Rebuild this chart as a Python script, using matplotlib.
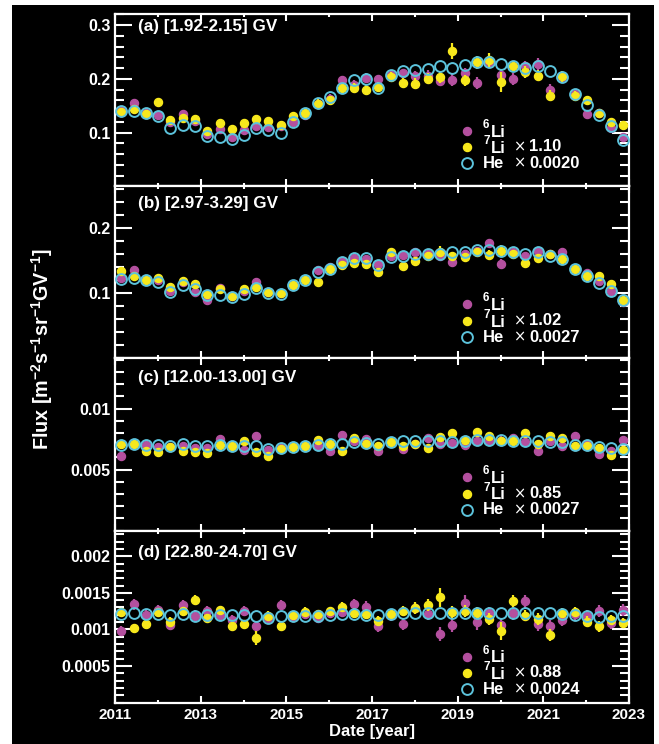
import matplotlib
matplotlib.use("Agg")
import matplotlib.pyplot as plt
from matplotlib.patches import Rectangle
from matplotlib.ticker import FixedLocator, FixedFormatter, MultipleLocator

plt.rcParams['font.family'] = ['Liberation Sans', 'DejaVu Sans']
plt.rcParams['font.weight'] = 'bold'
plt.rcParams['mathtext.fontset'] = 'custom'
plt.rcParams['mathtext.rm'] = 'Liberation Sans:bold'
plt.rcParams['mathtext.bf'] = 'Liberation Sans:bold'
plt.rcParams['mathtext.it'] = 'Liberation Sans:bold'
plt.rcParams['mathtext.default'] = 'rm'

# ---------------- data ----------------
dates = [2011.15, 2011.44, 2011.72, 2012.01, 2012.29, 2012.58, 2012.87, 2013.15, 2013.44, 2013.72,
         2014.01, 2014.30, 2014.58, 2014.87, 2015.15, 2015.44, 2015.73, 2016.01, 2016.30, 2016.58,
         2016.87, 2017.15, 2017.44, 2017.73, 2018.01, 2018.30, 2018.58, 2018.87, 2019.16, 2019.44,
         2019.73, 2020.01, 2020.30, 2020.58, 2020.87, 2021.16, 2021.44, 2021.73, 2022.01, 2022.30,
         2022.59, 2022.87]

panel_titles = ["(a) [1.92-2.15] GV", "(b) [2.97-3.29] GV", "(c) [12.00-13.00] GV", "(d) [22.80-24.70] GV"]
li7_scales = ["1.10", "1.02", "0.85", "0.88"]
he_scales = ["0.0020", "0.0027", "0.0027", "0.0024"]

# Panel (a)
li6_a = [0.142, 0.155, 0.136, 0.132, 0.120, 0.134, 0.122, 0.097, 0.106, 0.092, 0.104, 0.112, 0.110, 0.113,
         0.119, 0.132, 0.154, 0.163, 0.198, 0.188, 0.201, 0.199, 0.207, 0.210, 0.205, 0.206, 0.196, 0.198,
         0.210, 0.192, 0.232, 0.208, 0.200, 0.223, 0.227, 0.180, 0.204, 0.171, 0.134, 0.136, 0.109, 0.091]
li6_a_err = [0.007, 0.007, 0.007, 0.007, 0.007, 0.008, 0.007, 0.007, 0.007, 0.007, 0.007, 0.007, 0.007, 0.007,
             0.007, 0.007, 0.008, 0.008, 0.008, 0.009, 0.009, 0.009, 0.009, 0.009, 0.010, 0.010, 0.010, 0.011,
             0.011, 0.011, 0.011, 0.011, 0.011, 0.011, 0.011, 0.010, 0.010, 0.009, 0.008, 0.008, 0.007, 0.007]
li7_a = [0.138, 0.144, 0.135, 0.157, 0.124, 0.128, 0.126, 0.103, 0.118, 0.106, 0.118, 0.125, 0.122, 0.115,
         0.130, 0.137, 0.154, 0.161, 0.183, 0.183, 0.180, 0.185, 0.204, 0.192, 0.191, 0.200, 0.204, 0.251,
         0.197, 0.231, 0.235, 0.194, 0.223, 0.212, 0.206, 0.169, 0.205, 0.169, 0.160, 0.136, 0.119, 0.115]
li7_a_err = [0.007, 0.007, 0.007, 0.008, 0.007, 0.007, 0.007, 0.007, 0.007, 0.007, 0.007, 0.008, 0.007, 0.007,
             0.007, 0.007, 0.008, 0.008, 0.008, 0.009, 0.009, 0.009, 0.009, 0.009, 0.010, 0.010, 0.011, 0.015,
             0.010, 0.012, 0.013, 0.018, 0.011, 0.011, 0.010, 0.010, 0.010, 0.009, 0.008, 0.008, 0.008, 0.007]
he_a = [0.141, 0.141, 0.137, 0.131, 0.109, 0.115, 0.112, 0.093, 0.092, 0.089, 0.095, 0.109, 0.104, 0.099,
        0.119, 0.136, 0.155, 0.166, 0.183, 0.198, 0.200, 0.183, 0.208, 0.214, 0.217, 0.219, 0.223, 0.220,
        0.226, 0.231, 0.232, 0.228, 0.223, 0.220, 0.224, 0.215, 0.204, 0.172, 0.151, 0.132, 0.112, 0.086]

# Panel (b)
li6_b = [0.124, 0.135, 0.120, 0.120, 0.104, 0.117, 0.102, 0.089, 0.108, 0.096, 0.103, 0.117, 0.102, 0.100,
         0.112, 0.122, 0.135, 0.140, 0.150, 0.154, 0.153, 0.145, 0.158, 0.159, 0.163, 0.160, 0.157, 0.148,
         0.161, 0.165, 0.177, 0.145, 0.163, 0.158, 0.165, 0.160, 0.163, 0.137, 0.131, 0.119, 0.104, 0.087]
li6_b_err = [0.004, 0.004, 0.004, 0.004, 0.004, 0.004, 0.004, 0.004, 0.004, 0.004, 0.004, 0.004, 0.004, 0.004,
             0.004, 0.004, 0.004, 0.004, 0.005, 0.005, 0.005, 0.005, 0.005, 0.005, 0.005, 0.006, 0.006, 0.006,
             0.006, 0.006, 0.007, 0.007, 0.006, 0.006, 0.006, 0.006, 0.005, 0.005, 0.005, 0.004, 0.004, 0.004]
li7_b = [0.134, 0.127, 0.121, 0.124, 0.109, 0.119, 0.115, 0.099, 0.106, 0.096, 0.106, 0.109, 0.102, 0.101,
         0.113, 0.120, 0.117, 0.137, 0.143, 0.146, 0.145, 0.133, 0.163, 0.142, 0.150, 0.158, 0.164, 0.158,
         0.155, 0.164, 0.159, 0.165, 0.160, 0.146, 0.154, 0.160, 0.153, 0.137, 0.127, 0.127, 0.115, 0.090]
li7_b_err = [0.004, 0.004, 0.004, 0.004, 0.004, 0.004, 0.004, 0.004, 0.004, 0.004, 0.004, 0.004, 0.004, 0.004,
             0.004, 0.004, 0.004, 0.004, 0.005, 0.005, 0.005, 0.005, 0.005, 0.005, 0.005, 0.005, 0.008, 0.006,
             0.006, 0.006, 0.007, 0.009, 0.006, 0.006, 0.006, 0.005, 0.005, 0.005, 0.005, 0.004, 0.004, 0.004]
he_b = [0.122, 0.123, 0.120, 0.117, 0.102, 0.112, 0.107, 0.097, 0.097, 0.094, 0.099, 0.108, 0.100, 0.099,
        0.112, 0.121, 0.133, 0.138, 0.148, 0.154, 0.154, 0.144, 0.155, 0.158, 0.161, 0.160, 0.161, 0.163,
        0.164, 0.166, 0.166, 0.165, 0.163, 0.160, 0.164, 0.158, 0.153, 0.137, 0.126, 0.116, 0.103, 0.089]

# Panel (c)
li6_c = [0.0061, 0.00713, 0.00705, 0.00686, 0.00686, 0.00697, 0.00678, 0.00678, 0.00751, 0.00691, 0.00664,
         0.00773, 0.00664, 0.00678, 0.00697, 0.00691, 0.00691, 0.0065, 0.00787, 0.00732, 0.00751, 0.0065,
         0.00724, 0.00669, 0.00713, 0.0076, 0.00713, 0.00719, 0.00705, 0.00732, 0.00732, 0.00732, 0.0076,
         0.00724, 0.0065, 0.00732, 0.00697, 0.00773, 0.00713, 0.00628, 0.00656, 0.00746]
li6_c_err = [0.00022, 0.00022, 0.00022, 0.00022, 0.00022, 0.00022, 0.00022, 0.00022, 0.00024, 0.00022, 0.00022,
             0.00035, 0.00022, 0.00022, 0.00022, 0.00022, 0.00022, 0.00022, 0.00025, 0.00024, 0.00025, 0.00024,
             0.00024, 0.00024, 0.00024, 0.00026, 0.00035, 0.00026, 0.00030, 0.00026, 0.00026, 0.00040, 0.00026,
             0.00026, 0.00025, 0.00025, 0.00024, 0.00024, 0.00023, 0.00023, 0.00023, 0.00026]
li7_c = [0.00713, 0.0071, 0.00656, 0.00642, 0.00686, 0.0065, 0.00645, 0.00637, 0.00705, 0.00697, 0.00732,
         0.00642, 0.00615, 0.00669, 0.00686, 0.00697, 0.0074, 0.00713, 0.0065, 0.0076, 0.00713, 0.00691,
         0.00724, 0.00691, 0.00713, 0.00678, 0.00765, 0.0080, 0.00746, 0.00806, 0.00773, 0.00732, 0.00732,
         0.0080, 0.00713, 0.00773, 0.0076, 0.00691, 0.00697, 0.00678, 0.00617, 0.00664]
li7_c_err = [0.00020, 0.00020, 0.00020, 0.00020, 0.00020, 0.00020, 0.00020, 0.00020, 0.00020, 0.00022, 0.00022,
             0.00030, 0.00020, 0.00020, 0.00020, 0.00020, 0.00022, 0.00022, 0.00020, 0.00024, 0.00022, 0.00022,
             0.00022, 0.00022, 0.00022, 0.00022, 0.00028, 0.00028, 0.00028, 0.00030, 0.00028, 0.00025, 0.00025,
             0.00028, 0.00026, 0.00025, 0.00025, 0.00024, 0.00022, 0.00022, 0.00022, 0.00022]
he_c = [0.00705, 0.00713, 0.00705, 0.00705, 0.00697, 0.0071, 0.00697, 0.00691, 0.00705, 0.00691, 0.00691,
        0.00691, 0.00669, 0.00678, 0.00686, 0.00697, 0.00705, 0.0071, 0.00713, 0.00727, 0.00719, 0.00713,
        0.00724, 0.00732, 0.00738, 0.00732, 0.00732, 0.00724, 0.00732, 0.0074, 0.0074, 0.0074, 0.00732,
        0.00732, 0.00738, 0.00724, 0.00724, 0.00705, 0.00705, 0.00686, 0.00678, 0.00669]

# Panel (d)
li6_d = [0.000982, 0.001342, 0.001198, 0.001266, 0.001063, 0.001333, 0.001189, 0.001252, 0.001198, 0.001131,
         0.001252, 0.001041, 0.001153, 0.001333, 0.001176, 0.001207, 0.001153, 0.001221, 0.001234, 0.001342,
         0.001311, 0.001041, 0.001198, 0.001072, 0.001288, 0.001207, 0.000937, 0.001063, 0.001356, 0.001108,
         0.001221, 0.001063, 0.001221, 0.001387, 0.001072, 0.001041, 0.001131, 0.001207, 0.001189, 0.001252,
         0.001086, 0.001266]
li6_d_err = [0.00007, 0.00007, 0.00007, 0.00007, 0.00007, 0.00007, 0.00007, 0.00007, 0.00007, 0.00007,
             0.00007, 0.00007, 0.00007, 0.00007, 0.00007, 0.00007, 0.00007, 0.00007, 0.00007, 0.00008,
             0.00008, 0.00008, 0.00008, 0.00008, 0.00008, 0.00008, 0.00010, 0.00010, 0.00012, 0.00012,
             0.00009, 0.00009, 0.00009, 0.00009, 0.00009, 0.00009, 0.00008, 0.00008, 0.00008, 0.00008,
             0.00008, 0.00008]
li7_d = [0.001234, 0.001018, 0.001072, 0.001234, 0.001108, 0.001252, 0.001401, 0.001153, 0.001266, 0.001041,
         0.001072, 0.000883, 0.001189, 0.001041, 0.001198, 0.001243, 0.001207, 0.001252, 0.001311, 0.001221,
         0.001207, 0.001117, 0.001207, 0.001252, 0.001297, 0.001333, 0.001437, 0.001234, 0.001252, 0.001221,
         0.001144, 0.000982, 0.001387, 0.001189, 0.001144, 0.000928, 0.001221, 0.001243, 0.001108, 0.001041,
         0.001131, 0.001086]
li7_d_err = [0.00006, 0.00006, 0.00006, 0.00006, 0.00006, 0.00006, 0.00007, 0.00006, 0.00006, 0.00006,
             0.00006, 0.00009, 0.00006, 0.00006, 0.00006, 0.00006, 0.00006, 0.00006, 0.00007, 0.00007,
             0.00007, 0.00007, 0.00007, 0.00007, 0.00008, 0.00008, 0.00013, 0.00008, 0.00008, 0.00008,
             0.00008, 0.00012, 0.00008, 0.00008, 0.00008, 0.00008, 0.00007, 0.00007, 0.00007, 0.00007,
             0.00007, 0.00007]
he_d = [0.00121, 0.00122, 0.00121, 0.00121, 0.00120, 0.00121, 0.00119, 0.00120, 0.00120, 0.00120, 0.00120,
        0.00118, 0.00116, 0.00118, 0.00118, 0.00118, 0.00119, 0.00120, 0.00121, 0.00121, 0.00120, 0.00120,
        0.00121, 0.00122, 0.00122, 0.00122, 0.00122, 0.00122, 0.00122, 0.00122, 0.00123, 0.00122, 0.00122,
        0.00122, 0.00123, 0.00122, 0.00121, 0.00120, 0.00118, 0.00117, 0.00118, 0.00119]

ytick_vals = [[0.1, 0.2, 0.3], [0.1, 0.2], [0.005, 0.01], [0.0005, 0.001, 0.0015, 0.002]]
ytick_labels = [["0.1", "0.2", "0.3"], ["0.1", "0.2"], ["0.005", "0.01"], ["0.0005", "0.001", "0.0015", "0.002"]]
yminor_steps = [0.02, 0.02, 0.001, 0.0001]
ylims = [(0, 0.32), (0, 0.264), (0, 0.0141), (0, 0.00235)]
xtick_years = [2011, 2013, 2015, 2017, 2019, 2021, 2023]

panels = [
    (li6_a, li6_a_err, li7_a, li7_a_err, he_a),
    (li6_b, li6_b_err, li7_b, li7_b_err, he_b),
    (li6_c, li6_c_err, li7_c, li7_c_err, he_c),
    (li6_d, li6_d_err, li7_d, li7_d_err, he_d),
]

# ---------------- style ----------------
C6 = '#b4509f'
C7 = '#f7e81c'
CHE = '#5cc3dc'
W = 'white'

title_off = [0.068, 0.098, 0.110, 0.130]   # from top, axes fraction
leg_off = [0.676, 0.686, 0.690, 0.732]     # first legend row from top

fig = plt.figure(figsize=(6.59, 7.44), dpi=100, facecolor='white')
fig.patches.append(Rectangle((12 / 659, 0), 642 / 659, 739 / 744, transform=fig.transFigure,
                             facecolor='black', edgecolor='none', zorder=-10))

left = 115 / 659
width = (629 - 115) / 659
bottom = (744 - 702.7) / 744
total_h = (702.7 - 14.3) / 744
ph = total_h / 4

for i, (l6, e6, l7, e7, he) in enumerate(panels):
    ax = fig.add_axes([left, bottom + (3 - i) * ph, width, ph])
    ax.set_facecolor('black')
    for s in ax.spines.values():
        s.set_color(W)
        s.set_linewidth(1.6)

    ax.errorbar(dates, l6, yerr=e6, fmt='o', color=C6, ms=5.8, mec=C6, elinewidth=1.6,
                capsize=0, zorder=3)
    ax.errorbar(dates, l7, yerr=e7, fmt='o', color=C7, ms=5.8, mec=C7, elinewidth=1.6,
                capsize=0, zorder=4)
    ax.plot(dates, he, 'o', ms=7.8, mfc='none', mec=CHE, mew=1.4, zorder=5, clip_on=False)

    ax.set_xlim(2011, 2023)
    ax.set_ylim(*ylims[i])
    ax.xaxis.set_major_locator(FixedLocator(xtick_years))
    ax.xaxis.set_minor_locator(MultipleLocator(1))
    ax.yaxis.set_major_locator(FixedLocator(ytick_vals[i]))
    ax.yaxis.set_major_formatter(FixedFormatter(ytick_labels[i]))
    ax.yaxis.set_minor_locator(MultipleLocator(yminor_steps[i]))

    ax.tick_params(axis='y', which='major', direction='in', length=12.5, width=1.5, colors=W,
                   left=True, right=True, labelsize=11.5, pad=3)
    ax.tick_params(axis='y', which='minor', direction='in', length=6.5, width=1.5, colors=W,
                   left=True, right=True)
    ax.tick_params(axis='x', which='major', direction='in', length=5, width=1.5, colors=W,
                   top=True, bottom=True, labelsize=11, pad=4)
    ax.tick_params(axis='x', which='minor', direction='in', length=2.5, width=1.5, colors=W,
                   top=True, bottom=True)
    for lab in ax.get_yticklabels() + ax.get_xticklabels():
        lab.set_fontweight('bold')
    if i < 3:
        ax.tick_params(axis='x', which='both', labelbottom=False)
    else:
        ax.set_xticks(xtick_years)
        ax.set_xticklabels([str(y) for y in xtick_years], fontweight='bold', color=W)
        ax.set_xlabel("Date [year]", color=W, fontsize=12, fontweight='bold', labelpad=1)

    ax.text(0.044, 1 - title_off[i], panel_titles[i], transform=ax.transAxes, color=W,
            fontsize=12.3, fontweight='bold', va='center', ha='left')

    # legend block
    y0 = 1 - leg_off[i]
    dy = 0.095
    mx, tx, lx, xx, nx = 0.684, 0.716, 0.731, 0.776, 0.806
    ax.plot([mx], [y0], 'o', ms=5.8, color=C6, transform=ax.transAxes, clip_on=False)
    ax.plot([mx], [y0 - dy], 'o', ms=5.8, color=C7, transform=ax.transAxes, clip_on=False)
    ax.plot([mx], [y0 - 2 * dy], 'o', ms=7.8, mfc='none', mec=CHE, mew=1.4,
            transform=ax.transAxes, clip_on=False)
    for k, sup in ((0, "6"), (1, "7")):
        ax.text(tx, y0 - k * dy + 0.035, sup, transform=ax.transAxes, color=W, fontsize=8.5,
                fontweight='bold', va='center', ha='left')
        ax.text(lx, y0 - k * dy - 0.008, "Li", transform=ax.transAxes, color=W, fontsize=12,
                fontweight='bold', va='center', ha='left')
    ax.text(tx, y0 - 2 * dy, "He", transform=ax.transAxes, color=W, fontsize=12,
            fontweight='bold', va='center', ha='left')
    for k, val in ((1, li7_scales[i]), (2, he_scales[i])):
        ax.text(xx, y0 - k * dy, "\u00d7", transform=ax.transAxes, color=W, fontsize=10.5,
                fontweight='normal', va='center', ha='left', family='DejaVu Sans')
        ax.text(nx, y0 - k * dy, val, transform=ax.transAxes, color=W, fontsize=12,
                fontweight='bold', va='center', ha='left')

fig.text(0.064, 1 - 349 / 744, r"Flux [m$^{-2}$s$^{-1}$sr$^{-1}$GV$^{-1}$]", rotation=90,
         color=W, fontsize=14.2, fontweight='bold', va='center', ha='center')

fig.savefig("out.png", dpi=100, facecolor='white')
